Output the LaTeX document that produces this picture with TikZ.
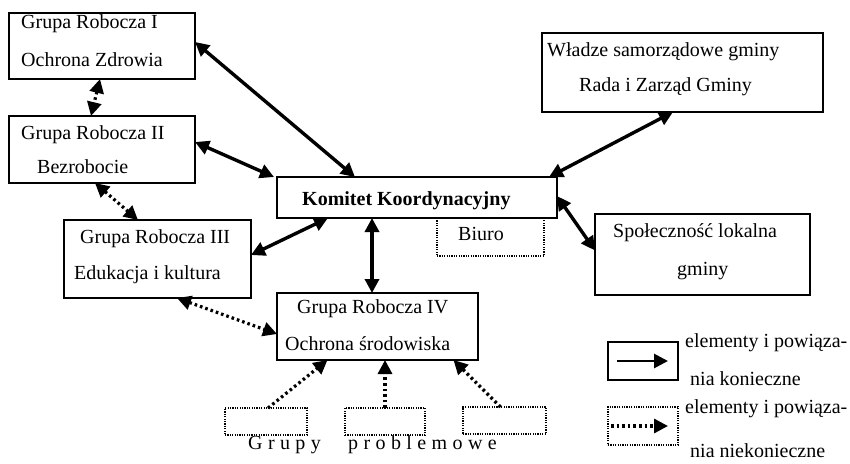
\documentclass[tikz,border=0pt]{standalone}
\usepackage{fontspec}
\setmainfont{Liberation Serif}
\newfontfamily\spacedfont[LetterSpace=27]{Liberation Serif}
\usetikzlibrary{arrows.meta,calc}

\tikzset{
  box/.style={draw, line width=1.3pt, rectangle, inner sep=0pt, outer sep=0pt, anchor=north west},
  dotbox/.style={draw, line width=1.2pt, dash pattern=on 1.2pt off 1.2pt, rectangle, inner sep=0pt, outer sep=0pt, anchor=north west},
  txt/.style={anchor=base west, inner sep=0pt, font=\fontsize{20}{24}\selectfont},
  tip/.tip={Triangle[length=14pt,width=14pt]},
  must/.style={line width=3.4pt, tip-tip},
  may/.style={line width=3.2pt, dash pattern=on 2.6pt off 3pt, tip-tip},
  mustone/.style={line width=2.8pt, -tip},
  mayone/.style={line width=3.2pt, dash pattern=on 2.6pt off 3pt, -tip}
}

\begin{document}
\begin{tikzpicture}[x=1pt, y=-1pt]
\useasboundingbox (0,0) rectangle (850,463);

% working groups and bodies
\node[box, minimum width=186pt, minimum height=66pt] (g1) at (9,13) {};
\node[box, minimum width=186pt, minimum height=67pt] (g2) at (9,116) {};
\node[box, minimum width=187pt, minimum height=78pt] (g3) at (64,220) {};
\node[dotbox, minimum width=107pt, minimum height=38pt] (biuro) at (437,218) {};
\node[box, minimum width=280pt, minimum height=41pt] (kk) at (277,177) {};
\node[box, minimum width=281pt, minimum height=79pt] (w) at (542,33) {};
\node[box, minimum width=215pt, minimum height=81pt] (s) at (595,214) {};
\node[box, minimum width=201pt, minimum height=67pt] (g4) at (277,293) {};

% problem groups
\node[dotbox, minimum width=82pt, minimum height=27pt] (p1) at (225,408) {};
\node[dotbox, minimum width=80pt, minimum height=27pt] (p2) at (345,408) {};
\node[dotbox, minimum width=83pt, minimum height=27pt] (p3) at (463,407) {};

% legend boxes
\node[box, minimum width=70pt, minimum height=38pt] (l1) at (608,342) {};
\node[dotbox, minimum width=70pt, minimum height=38pt] (l2) at (608,407) {};

% labels
\node[txt] (t1a) at (21,28) {Grupa Robocza I};
\node[txt] (t1b) at (21,66) {Ochrona Zdrowia};
\node[txt] (t2a) at (21,139) {Grupa Robocza II};
\node[txt] (t2b) at (37,173) {Bezrobocie};
\node[txt] (t3a) at (80,243) {Grupa Robocza III};
\node[txt] (t3b) at (74,279) {Edukacja i kultura};
\node[txt, font=\fontsize{20}{24}\selectfont\bfseries] (tk) at (302,205) {Komitet Koordynacyjny};
\node[txt] (tb) at (458,240) {Biuro};
\node[txt] (twa) at (547,56) {Władze samorządowe gminy};
\node[txt] (twb) at (579,91) {Rada i Zarząd Gminy};
\node[txt] (tsa) at (613,237) {Społeczność lokalna};
\node[txt] (tsb) at (677,275) {gminy};
\node[txt] (t4a) at (297,313) {Grupa Robocza IV};
\node[txt] (t4b) at (285,350) {Ochrona środowiska};
\node[txt, font=\fontsize{20}{24}\spacedfont] (tg1) at (248,449) {Grupy};
\node[txt, font=\fontsize{20}{24}\spacedfont] (tg2) at (348,449) {problemowe};
\node[txt] (la) at (685,347) {elementy i powiąza-};
\node[txt] (lb) at (690,385) {nia konieczne};
\node[txt] (lc) at (685,413) {elementy i powiąza-};
\node[txt] (ld) at (690,457) {nia niekonieczne};

% necessary links
\draw[must] ([yshift=4pt]g1.east) -- ([xshift=-62pt]kk.north);
\draw[must] ([yshift=7.5pt]g2.east) -- ([xshift=-3pt]kk.north west);
\draw[must] ([xshift=-9.5pt]w.south) -- ([xshift=-8pt]kk.north east);
\draw[must] ([yshift=1.5pt]kk.east) -- ([yshift=4pt]s.west);
\draw[must] ([yshift=4pt]g3.east) -- ([xshift=-89pt]kk.south);
\draw[must] ([xshift=-45pt]kk.south) -- ([xshift=-45pt]kk.south |- g4.north);

% optional links
\draw[may] ([xshift=-2pt]g1.south) -- ([xshift=-11pt]g2.north);
\draw[may] ([xshift=-7pt]g2.south) -- ([xshift=-19.5pt]g3.north);
\draw[may] ([xshift=19.5pt]g3.south) -- ([yshift=-7.5pt]g4.west);
\draw[mayone] ([xshift=2pt]p1.north) -- ([xshift=-50pt]g4.south);
\draw[mayone] (p2.north) -- (p2.north |- g4.south);
\draw[mayone] ([xshift=-4pt]p3.north) -- ([xshift=76pt]g4.south);

% legend arrows
\draw[mustone] ([xshift=9pt]l1.west) -- ([xshift=-10pt]l1.east);
\draw[mayone] ([xshift=3pt]l2.west) -- ([xshift=-10pt]l2.east);
\end{tikzpicture}
\end{document}
